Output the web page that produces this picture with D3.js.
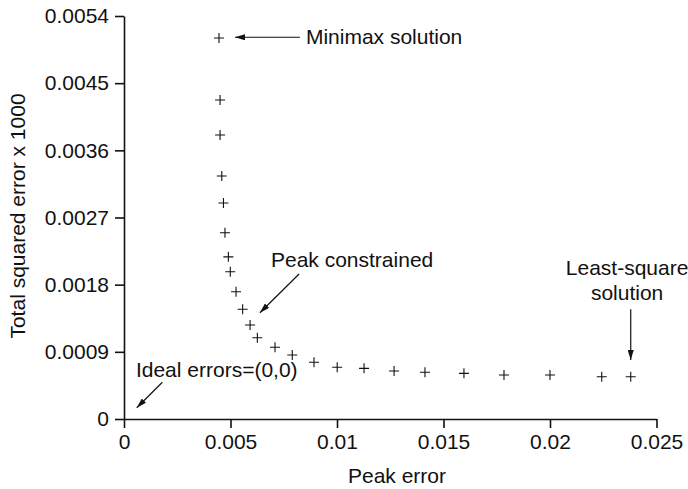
<!DOCTYPE html>
<html>
<head>
<meta charset="utf-8">
<script src="https://cdn.jsdelivr.net/npm/d3@7"></script>
<style>
  body { margin: 0; background: #fff; }
  svg text { font-family: "Liberation Sans", Arial, Helvetica, sans-serif; fill: #111; }
</style>
</head>
<body>
<svg id="chart" width="688" height="489"></svg>
<script>
// data
const peakError = [0.00446, 0.00451, 0.00451, 0.00459, 0.00467, 0.00474, 0.00490, 0.00499,
  0.00526, 0.00557, 0.00592, 0.00626, 0.00709, 0.00790, 0.00892, 0.01001, 0.01127,
  0.01268, 0.01413, 0.01596, 0.01784, 0.02000, 0.02243, 0.02379];
const totalSqError = [0.005105, 0.004274, 0.003805, 0.003256, 0.002894, 0.002496, 0.002173,
  0.001974, 0.001706, 0.001470, 0.001260, 0.001089, 0.000961, 0.000858, 0.000760, 0.000693,
  0.000679, 0.000643, 0.000626, 0.000612, 0.000590, 0.000590, 0.000567, 0.000567];
const xTicks = [0, 0.005, 0.01, 0.015, 0.02, 0.025];
const xTickLabels = ["0", "0.005", "0.01", "0.015", "0.02", "0.025"];
const yTicks = [0, 0.0009, 0.0018, 0.0027, 0.0036, 0.0045, 0.0054];
const yTickLabels = ["0", "0.0009", "0.0018", "0.0027", "0.0036", "0.0045", "0.0054"];

// annotation texts with arrow ends (data units)
const noteTexts = ["Minimax solution", "Peak constrained", "Ideal errors=(0,0)", "Least-square"];
const noteAt = [[0.00854, 0.00503], [0.00690, 0.00204], [0.00056, 0.000563], [0.02362, 0.00193]];
const arrowFrom = [[0.00826, 0.005115], [0.00822, 0.001943], [0.00180, 0.000492], [0.02379, 0.00147]];
const arrowTo = [[0.00521, 0.005115], [0.00638, 0.001424], [0.00060, 0.000151], [0.02379, 0.000791]];

const points = peakError.map((d, i) => ({ x: d, y: totalSqError[i] }));

const svg = d3.select("#chart");
const fontSize = 21;

const x = d3.scaleLinear().domain([0, 0.025]).range([124, 656.5]);
const y = d3.scaleLinear().domain([0, 0.0054]).range([419, 16]);

// axes
const xAxis = svg.append("g")
  .attr("transform", `translate(0, ${y(0)})`)
  .call(d3.axisBottom(x).tickValues(xTicks).tickFormat((d, i) => xTickLabels[i])
    .tickSize(9).tickSizeOuter(0).tickPadding(6));
const yAxis = svg.append("g")
  .attr("transform", `translate(${x(0)}, 0)`)
  .call(d3.axisLeft(y).tickValues(yTicks).tickFormat((d, i) => yTickLabels[i])
    .tickSize(9).tickSizeOuter(0).tickPadding(6));

[xAxis, yAxis].forEach(a => {
  a.select(".domain").attr("stroke", "#111").attr("stroke-width", 1.6);
  a.selectAll(".tick line").attr("stroke", "#111").attr("stroke-width", 1.6);
  a.selectAll(".tick text").attr("font-size", fontSize).attr("font-family", null).style("fill", "#111");
});

// axis titles
svg.append("text")
  .attr("x", 397)
  .attr("y", 483)
  .attr("text-anchor", "middle")
  .attr("font-size", fontSize)
  .text("Peak error");

svg.append("text")
  .attr("transform", "translate(25, 216) rotate(-90)")
  .attr("text-anchor", "middle")
  .attr("font-size", fontSize)
  .text("Total squared error x 1000");

// plus markers
const half = 5;
svg.append("g")
  .selectAll("path")
  .data(points)
  .enter()
  .append("path")
  .attr("d", d => {
    const px = x(d.x), py = y(d.y);
    return `M${px - half},${py}H${px + half}M${px},${py - half}V${py + half}`;
  })
  .attr("stroke", "#111")
  .attr("stroke-width", 1.1)
  .attr("fill", "none");

// arrow head
svg.append("defs").append("marker")
  .attr("id", "head")
  .attr("viewBox", "0 0 10 6")
  .attr("refX", 10)
  .attr("refY", 3)
  .attr("markerWidth", 11)
  .attr("markerHeight", 6)
  .attr("markerUnits", "userSpaceOnUse")
  .attr("orient", "auto")
  .append("path")
  .attr("d", "M0,0L10,3L0,6Z")
  .attr("fill", "#111");

svg.append("g")
  .selectAll("line")
  .data(arrowFrom)
  .enter()
  .append("line")
  .attr("x1", d => x(d[0]))
  .attr("y1", d => y(d[1]))
  .attr("x2", (d, i) => x(arrowTo[i][0]))
  .attr("y2", (d, i) => y(arrowTo[i][1]))
  .attr("stroke", "#111")
  .attr("stroke-width", 1.2)
  .attr("marker-end", "url(#head)");

// annotation labels
svg.append("g")
  .selectAll("text")
  .data(noteTexts)
  .enter()
  .append("text")
  .attr("x", (d, i) => x(noteAt[i][0]))
  .attr("y", (d, i) => y(noteAt[i][1]))
  .attr("text-anchor", (d, i) => i === 3 ? "middle" : "start")
  .attr("font-size", fontSize)
  .text(d => d);

// second line of the least-square note
svg.append("text")
  .attr("x", x(noteAt[3][0]))
  .attr("y", y(noteAt[3][1]) + 25)
  .attr("text-anchor", "middle")
  .attr("font-size", fontSize)
  .text("solution");
</script>
</body>
</html>
